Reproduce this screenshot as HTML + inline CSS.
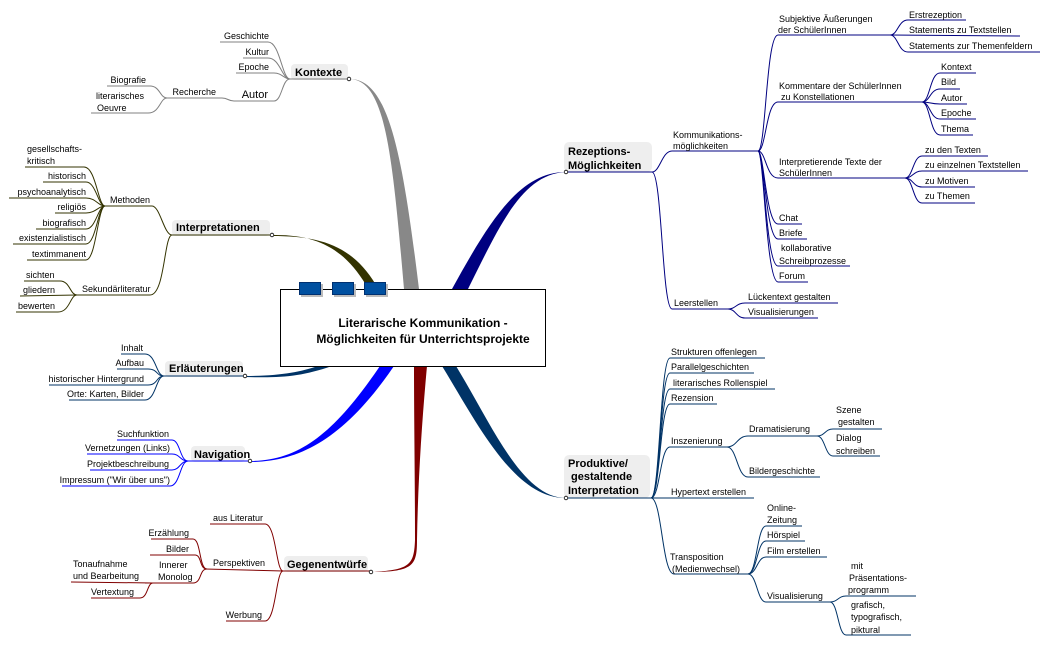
<!DOCTYPE html>
<html><head><meta charset="utf-8"><style>
html,body{margin:0;padding:0;background:#fff}
svg{display:block}
text{font-family:"Liberation Sans",sans-serif;font-size:9px;fill:#000}
.m{font-size:11px;font-weight:bold}
.t{font-size:12px;font-weight:bold}
path.l{fill:none;stroke-width:1}
</style></head><body>
<svg width="1050" height="646" viewBox="0 0 1050 646" xmlns="http://www.w3.org/2000/svg">
<!-- thick branches -->
<path d="M349,79 C385,79 392,150 404,289 L419,289 C402,150 388,78 349,79 Z" fill="#888"/>
<path d="M272,235 C318,234 345,250 366,285 L376,285 C352,245 320,236 272,236 Z" fill="#333300"/>
<path d="M452,289 C490,220 520,172 566,172 C522,174 500,225 468,289 Z" fill="#000080"/>
<path d="M245,376 C280,376 300,372 318,366 L332,366 C300,377 280,378 245,377 Z" fill="#003366"/>
<path d="M250,461 C300,461 335,432 380,366 L394,366 C345,438 300,462 250,462 Z" fill="#0000ff"/>
<path d="M414,366 L427,366 C422,420 418,480 417,540 C417,565 414,572 371,572 C410,570 414,565 415,540 C415,480 414,420 414,366 Z" fill="#800000"/>
<path d="M442,366 L456,366 C492,425 522,498 566,498 C515,499 478,425 442,366 Z" fill="#003366"/>

<!-- central -->
<rect x="280.5" y="289.5" width="265" height="77" fill="#fff" stroke="#000"/>
<g fill="#0050a0" stroke="#003070">
<rect x="301" y="284" width="22" height="13" fill="#bbb" stroke="none"/>
<rect x="334" y="284" width="22" height="13" fill="#bbb" stroke="none"/>
<rect x="366" y="284" width="22" height="13" fill="#bbb" stroke="none"/>
<rect x="299.5" y="282.5" width="21" height="12"/>
<rect x="332.5" y="282.5" width="21" height="12"/>
<rect x="364.5" y="282.5" width="21" height="12"/>
</g>
<text class="t" x="423" y="327" text-anchor="middle">Literarische Kommunikation -</text>
<text class="t" x="423" y="343" text-anchor="middle">Möglichkeiten für Unterrichtsprojekte</text>

<!-- Kontexte -->
<rect x="291" y="64" width="57" height="16" rx="4" fill="#eee"/>
<text class="m" x="295" y="76">Kontexte</text>
<path class="l" stroke="#808080" d="M348,79 L290,79"/>
<path class="l" stroke="#808080" d="M290,79 C282,79 280,42 268,42 L220,42"/>
<path class="l" stroke="#808080" d="M290,79 C282,79 280,58 268,58 L243,58"/>
<path class="l" stroke="#808080" d="M290,79 C284,79 282,73 274,73 L236,73"/>
<path class="l" stroke="#808080" d="M290,79 C282,79 282,101 274,101 L234,101 C228,101 228,98 222,98 L167,98"/>
<path class="l" stroke="#808080" d="M167,98 C160,98 160,86 150,86 L107,86"/>
<path class="l" stroke="#808080" d="M167,98 C160,98 160,113 148,113 L91,113"/>
<text x="269" y="39" text-anchor="end">Geschichte</text>
<text x="269" y="55" text-anchor="end">Kultur</text>
<text x="269" y="70" text-anchor="end">Epoche</text>
<text x="268" y="98" text-anchor="end" style="font-size:11px">Autor</text>
<text x="216" y="95" text-anchor="end">Recherche</text>
<text x="146" y="83" text-anchor="end">Biografie</text>
<text x="96" y="99">literarisches</text>
<text x="97" y="111">Oeuvre</text>

<!-- Interpretationen -->
<rect x="172" y="220" width="98" height="16" rx="4" fill="#eee"/>
<text class="m" x="176" y="231">Interpretationen</text>
<path class="l" stroke="#333300" d="M272,235 L172,235"/>
<path class="l" stroke="#333300" d="M172,235 C164,235 160,206 152,206 L105,206"/>
<path class="l" stroke="#333300" d="M172,235 C164,235 165,295 150,295 L77,295"/>
<path class="l" stroke="#333300" d="M105,206 C98,206 96,167 84,167 L25,167"/>
<path class="l" stroke="#333300" d="M105,206 C98,206 96,182 86,182 L43,182"/>
<path class="l" stroke="#333300" d="M105,206 C98,206 96,198 86,198 L9,198"/>
<path class="l" stroke="#333300" d="M105,206 C98,206 96,213 86,213 L55,213"/>
<path class="l" stroke="#333300" d="M105,206 C98,206 96,229 86,229 L36,229"/>
<path class="l" stroke="#333300" d="M105,206 C98,206 96,244 86,244 L13,244"/>
<path class="l" stroke="#333300" d="M105,206 C98,206 96,260 86,260 L27,260"/>
<path class="l" stroke="#333300" d="M77,295 C70,295 70,281 60,281 L24,281"/>
<path class="l" stroke="#333300" d="M77,295 L20,296"/>
<path class="l" stroke="#333300" d="M77,295 C70,295 70,312 58,312 L16,312"/>
<text x="110" y="203">Methoden</text>
<text x="82" y="292">Sekundärliteratur</text>
<text x="27" y="152">gesellschafts-</text>
<text x="27" y="164">kritisch</text>
<text x="86" y="179" text-anchor="end">historisch</text>
<text x="86" y="195" text-anchor="end">psychoanalytisch</text>
<text x="86" y="210" text-anchor="end">religiös</text>
<text x="86" y="226" text-anchor="end">biografisch</text>
<text x="86" y="241" text-anchor="end">existenzialistisch</text>
<text x="86" y="257" text-anchor="end">textimmanent</text>
<text x="26" y="278">sichten</text>
<text x="23" y="293">gliedern</text>
<text x="18" y="309">bewerten</text>

<!-- Erläuterungen -->
<rect x="165" y="361" width="78" height="16" rx="4" fill="#eee"/>
<text class="m" x="169" y="372">Erläuterungen</text>
<path class="l" stroke="#003366" d="M245,376 L164,376"/>
<path class="l" stroke="#003366" d="M164,376 C156,376 156,354 145,354 L121,354"/>
<path class="l" stroke="#003366" d="M164,376 C156,376 158,369 148,369 L117,369"/>
<path class="l" stroke="#003366" d="M164,376 C156,376 158,385 148,385 L49,385"/>
<path class="l" stroke="#003366" d="M164,376 C156,376 156,400 145,400 L69,400"/>
<text x="143" y="351" text-anchor="end">Inhalt</text>
<text x="144" y="366" text-anchor="end">Aufbau</text>
<text x="144" y="382" text-anchor="end">historischer Hintergrund</text>
<text x="144" y="397" text-anchor="end">Orte: Karten, Bilder</text>

<!-- Navigation -->
<rect x="191" y="446" width="54" height="16" rx="4" fill="#eee"/>
<text class="m" x="194" y="458">Navigation</text>
<path class="l" stroke="#0000ff" d="M250,461 L188,461"/>
<path class="l" stroke="#0000ff" d="M188,461 C180,461 180,440 172,440 L117,440"/>
<path class="l" stroke="#0000ff" d="M188,461 C180,461 180,454 172,454 L87,454"/>
<path class="l" stroke="#0000ff" d="M188,461 C180,461 180,470 172,470 L90,470"/>
<path class="l" stroke="#0000ff" d="M188,461 C180,461 180,486 170,486 L62,486"/>
<text x="169" y="437" text-anchor="end">Suchfunktion</text>
<text x="170" y="451" text-anchor="end">Vernetzungen (Links)</text>
<text x="169" y="467" text-anchor="end">Projektbeschreibung</text>
<text x="170" y="483" text-anchor="end">Impressum ("Wir über uns")</text>

<!-- Gegenentwürfe -->
<rect x="284" y="556" width="84" height="16" rx="4" fill="#eee"/>
<text class="m" x="287" y="568">Gegenentwürfe</text>
<path class="l" stroke="#800000" d="M371,571 L283,571"/>
<path class="l" stroke="#800000" d="M283,571 C276,571 276,524 265,524 L210,524"/>
<path class="l" stroke="#800000" d="M283,571 L205,569"/>
<path class="l" stroke="#800000" d="M283,571 C276,571 276,621 265,621 L226,621"/>
<path class="l" stroke="#800000" d="M207,569 C199,569 201,539 193,539 L151,539"/>
<path class="l" stroke="#800000" d="M207,569 C199,569 202,555 195,555 L150,555"/>
<path class="l" stroke="#800000" d="M207,569 C199,569 202,583 193,583 L145,583"/>
<path class="l" stroke="#800000" d="M153,583 L71,582"/>
<path class="l" stroke="#800000" d="M153,583 C147,583 148,598 140,598 L91,598"/>
<text x="263" y="521" text-anchor="end">aus Literatur</text>
<text x="213" y="566">Perspektiven</text>
<text x="262" y="618" text-anchor="end">Werbung</text>
<text x="189" y="536" text-anchor="end">Erzählung</text>
<text x="189" y="552" text-anchor="end">Bilder</text>
<text x="159" y="568">Innerer</text>
<text x="158" y="580">Monolog</text>
<text x="73" y="567">Tonaufnahme</text>
<text x="73" y="579">und Bearbeitung</text>
<text x="134" y="595" text-anchor="end">Vertextung</text>

<!-- Rezeptions -->
<rect x="564" y="142" width="88" height="30" rx="5" fill="#eee"/>
<text class="m" x="568" y="155">Rezeptions-</text>
<text class="m" x="568" y="169">Möglichkeiten</text>
<path class="l" stroke="#000080" d="M566,172 L652,172"/>
<path class="l" stroke="#000080" d="M652,172 C660,172 662,151 672,151 L760,151"/>
<path class="l" stroke="#000080" d="M652,172 C662,172 662,309 672,309 L728,309"/>
<path class="l" stroke="#000080" d="M758,151 C766,151 766,35 778,35 L890,35"/>
<path class="l" stroke="#000080" d="M758,151 C766,151 766,102 778,102 L922,102"/>
<path class="l" stroke="#000080" d="M758,151 C766,151 766,178 778,178 L905,178"/>
<path class="l" stroke="#000080" d="M758,151 C764,151 766,224 778,224 L802,224"/>
<path class="l" stroke="#000080" d="M758,151 C764,151 766,239 778,239 L807,239"/>
<path class="l" stroke="#000080" d="M758,151 C764,151 766,266 778,266 L850,266"/>
<path class="l" stroke="#000080" d="M758,151 C764,151 766,282 778,282 L808,282"/>
<path class="l" stroke="#000080" d="M890,35 C898,35 898,20 908,20 L966,20"/>
<path class="l" stroke="#000080" d="M890,35 L1020,36"/>
<path class="l" stroke="#000080" d="M890,35 C898,35 898,52 908,52 L1040,52"/>
<path class="l" stroke="#000080" d="M922,102 C930,102 930,73 940,73 L976,73"/>
<path class="l" stroke="#000080" d="M922,102 C930,102 930,89 940,89 L960,89"/>
<path class="l" stroke="#000080" d="M922,102 C930,102 930,104 940,104 L967,104"/>
<path class="l" stroke="#000080" d="M922,102 C930,102 930,119 940,119 L976,119"/>
<path class="l" stroke="#000080" d="M922,102 C930,102 930,135 940,135 L973,135"/>
<path class="l" stroke="#000080" d="M905,178 C913,178 913,156 922,156 L988,156"/>
<path class="l" stroke="#000080" d="M905,178 C913,178 913,171 922,171 L1028,171"/>
<path class="l" stroke="#000080" d="M905,178 C913,178 913,187 922,187 L975,187"/>
<path class="l" stroke="#000080" d="M905,178 C913,178 913,203 922,203 L975,203"/>
<path class="l" stroke="#000080" d="M728,309 C736,309 736,303 745,303 L838,303"/>
<path class="l" stroke="#000080" d="M728,309 C736,309 736,318 745,318 L818,318"/>
<text x="673" y="138">Kommunikations-</text>
<text x="673" y="149">möglichkeiten</text>
<text x="674" y="306">Leerstellen</text>
<text x="779" y="22">Subjektive Äußerungen</text>
<text x="778" y="33">der SchülerInnen</text>
<text x="779" y="89">Kommentare der SchülerInnen</text>
<text x="781" y="100">zu Konstellationen</text>
<text x="779" y="165">Interpretierende Texte der</text>
<text x="779" y="176">SchülerInnen</text>
<text x="779" y="221">Chat</text>
<text x="779" y="236">Briefe</text>
<text x="781" y="251">kollaborative</text>
<text x="779" y="264">Schreibprozesse</text>
<text x="779" y="279">Forum</text>
<text x="909" y="18">Erstrezeption</text>
<text x="909" y="33">Statements zu Textstellen</text>
<text x="909" y="49">Statements zur Themenfeldern</text>
<text x="941" y="70">Kontext</text>
<text x="941" y="85">Bild</text>
<text x="941" y="101">Autor</text>
<text x="941" y="116">Epoche</text>
<text x="941" y="132">Thema</text>
<text x="925" y="153">zu den Texten</text>
<text x="925" y="168">zu einzelnen Textstellen</text>
<text x="925" y="184">zu Motiven</text>
<text x="925" y="199">zu Themen</text>
<text x="748" y="300">Lückentext gestalten</text>
<text x="748" y="315">Visualisierungen</text>

<!-- Produktive -->
<rect x="564" y="455" width="86" height="43" rx="5" fill="#eee"/>
<text class="m" x="568" y="467">Produktive/</text>
<text class="m" x="571" y="480">gestaltende</text>
<text class="m" x="568" y="494">Interpretation</text>
<path class="l" stroke="#003366" d="M566,498 L754,498"/>
<path class="l" stroke="#003366" d="M651,498 C660,498 660,358 670,358 L765,358"/>
<path class="l" stroke="#003366" d="M651,498 C660,498 660,373 670,373 L754,373"/>
<path class="l" stroke="#003366" d="M651,498 C660,498 660,389 670,389 L775,389"/>
<path class="l" stroke="#003366" d="M651,498 C660,498 660,404 670,404 L717,404"/>
<path class="l" stroke="#003366" d="M651,498 C660,498 660,447 670,447 L727,447"/>
<path class="l" stroke="#003366" d="M651,498 C662,498 662,574 674,574 L748,574"/>
<path class="l" stroke="#003366" d="M727,447 C737,447 737,436 748,436 L817,436"/>
<path class="l" stroke="#003366" d="M727,447 C737,447 737,477 748,477 L820,477"/>
<path class="l" stroke="#003366" d="M817,436 C825,436 825,429 833,429 L882,429"/>
<path class="l" stroke="#003366" d="M817,436 C825,436 825,456 833,456 L880,456"/>
<path class="l" stroke="#003366" d="M748,574 C757,574 757,526 766,526 L802,526"/>
<path class="l" stroke="#003366" d="M748,574 C757,574 757,541 766,541 L805,541"/>
<path class="l" stroke="#003366" d="M748,574 C757,574 757,557 766,557 L827,557"/>
<path class="l" stroke="#003366" d="M748,574 C757,574 757,602 766,602 L830,602"/>
<path class="l" stroke="#003366" d="M830,602 C838,602 838,596 846,596 L916,596"/>
<path class="l" stroke="#003366" d="M830,602 C838,602 838,635 846,635 L911,635"/>
<text x="671" y="355">Strukturen offenlegen</text>
<text x="671" y="370">Parallelgeschichten</text>
<text x="673" y="386">literarisches Rollenspiel</text>
<text x="671" y="401">Rezension</text>
<text x="671" y="444">Inszenierung</text>
<text x="671" y="495">Hypertext erstellen</text>
<text x="670" y="560">Transposition</text>
<text x="672" y="572">(Medienwechsel)</text>
<text x="749" y="432">Dramatisierung</text>
<text x="749" y="474">Bildergeschichte</text>
<text x="836" y="413">Szene</text>
<text x="838" y="425">gestalten</text>
<text x="836" y="441">Dialog</text>
<text x="836" y="454">schreiben</text>
<text x="767" y="511">Online-</text>
<text x="767" y="523">Zeitung</text>
<text x="767" y="538">Hörspiel</text>
<text x="767" y="554">Film erstellen</text>
<text x="767" y="599">Visualisierung</text>
<text x="851" y="569">mit</text>
<text x="849" y="581">Präsentations-</text>
<text x="848" y="593">programm</text>
<text x="851" y="608">grafisch,</text>
<text x="851" y="620">typografisch,</text>
<text x="851" y="633">piktural</text>

<!-- dots -->
<g fill="#fff" stroke="#000" stroke-width="0.8">
<circle cx="349" cy="79" r="1.8"/><circle cx="272" cy="235" r="1.8"/><circle cx="245" cy="376" r="1.8"/>
<circle cx="250" cy="461" r="1.8"/><circle cx="371" cy="572" r="1.8"/><circle cx="566" cy="172" r="1.8"/><circle cx="566" cy="498" r="1.8"/>
</g>
</svg>
</body></html>
